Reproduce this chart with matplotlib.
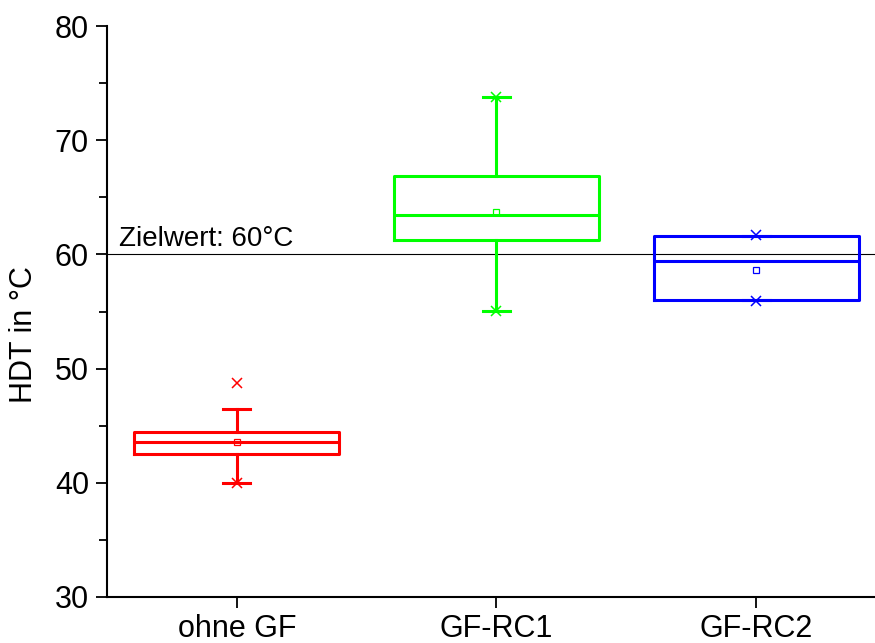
import matplotlib
matplotlib.use('Agg')
import matplotlib.pyplot as plt
from matplotlib.ticker import MultipleLocator

plt.rcParams['font.family'] = ['Liberation Sans', 'DejaVu Sans']

# HDT box plot data
groups = ['ohne GF', 'GF-RC1', 'GF-RC2']
colors = ['#FF0000', '#00FF00', '#0000FF']
q1 = [42.5, 61.25, 56.0]
median = [43.6, 63.45, 59.45]
q3 = [44.45, 66.9, 61.6]
whisker_low = [40.0, 55.05, 56.0]
whisker_high = [46.45, 73.8, 61.6]
mean = [43.6, 63.75, 58.6]
minimum = [40.0, 55.05, 55.9]
maximum = [48.75, 73.8, 61.7]
target = 60

fig = plt.figure(figsize=(8.75, 6.43), dpi=100)
ax = fig.add_axes([107 / 875, 46 / 643, (886 - 107) / 875, 571 / 643])

positions = [1, 2, 3]
for i in range(3):
    stats = [{'q1': q1[i], 'med': median[i], 'q3': q3[i],
              'whislo': whisker_low[i], 'whishi': whisker_high[i],
              'mean': mean[i], 'fliers': []}]
    c = colors[i]
    ax.bxp(stats, positions=[positions[i]], widths=0.79, capwidths=[0.105],
           showmeans=True, showfliers=False,
           boxprops=dict(color=c, linewidth=2.2),
           medianprops=dict(color=c, linewidth=2.2),
           whiskerprops=dict(color=c, linewidth=2.2),
           capprops=dict(color=c, linewidth=2.2),
           meanprops=dict(marker='s', markerfacecolor='none',
                          markeredgecolor=c, markersize=4.5,
                          markeredgewidth=0.9))
    ax.plot([positions[i], positions[i]], [minimum[i], maximum[i]],
            linestyle='none', marker='x', color=c, markersize=7,
            markeredgewidth=1.1)

ax.axhline(target, color='black', linewidth=0.8, zorder=0)
ax.text(0.545, target + 0.25, 'Zielwert: 60°C', fontsize=20,
        ha='left', va='bottom')

ax.set_xlim(0.5, 3.5)
ax.set_ylim(30, 80)
ax.set_xticks(positions)
ax.set_xticklabels(groups)
ax.yaxis.set_major_locator(MultipleLocator(10))
ax.yaxis.set_minor_locator(MultipleLocator(5))
ax.set_ylabel('HDT in °C', fontsize=22)
ax.yaxis.set_label_coords(-0.087, 0.459)

for side in ['top', 'right']:
    ax.spines[side].set_visible(False)
for side in ['left', 'bottom']:
    ax.spines[side].set_linewidth(1.5)

ax.tick_params(axis='both', which='major', direction='out', length=8,
               width=1.3, labelsize=22, pad=5)
ax.tick_params(axis='x', which='major', pad=4)
ax.tick_params(axis='y', which='minor', direction='out', length=5.5,
               width=1.3)
ax.tick_params(axis='x', which='minor', bottom=False)

fig.savefig('out.png', dpi=100)
